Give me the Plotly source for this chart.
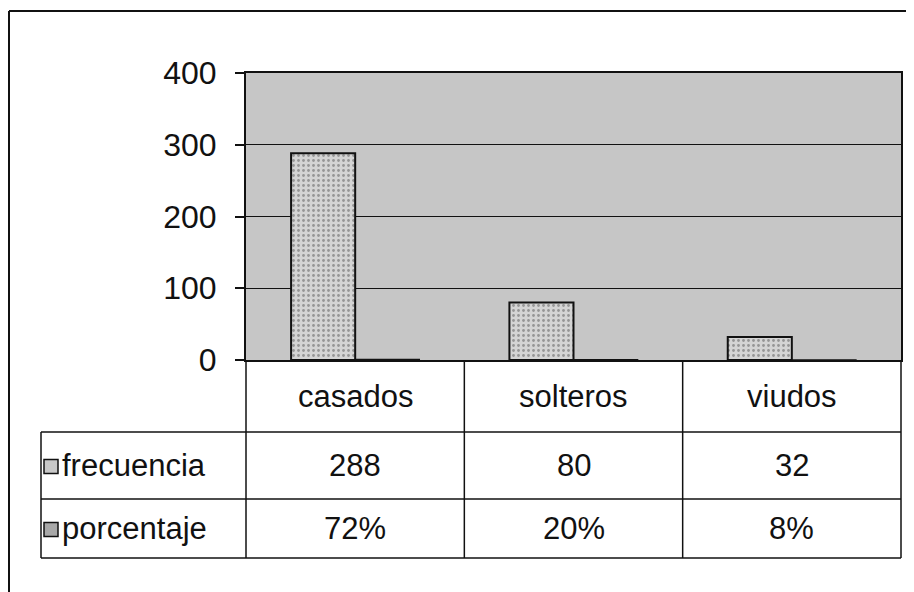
import plotly.graph_objects as go

# ---- data ----
categories = ["casados", "solteros", "viudos"]
frecuencia = [288, 80, 32]
porcentaje = [0.72, 0.20, 0.08]
series_names = ["frecuencia", "porcentaje"]
y_ticks = [0, 100, 200, 300, 400]

# page body has an 8px margin, so the figure is drawn offset by (8, 8)
OFF = 8
W, H = 914 - OFF, 592 - OFF
PL, PT, PR, PB = 246, 73, 901, 360      # plot area in screen pixels
L, T = PL - OFF, PT - OFF
R = W + OFF - PR
B = H + OFF - PB
PW, PH = PR - PL, PB - PT

def px(x):
    return (x - PL) / PW

def py(y):
    return (PB - y) / PH

FONT = "Liberation Sans, Arial, sans-serif"
INK = "#111111"

fig = go.Figure()
fig.add_trace(go.Bar(
    x=categories, y=frecuencia, name=series_names[0],
    marker=dict(color="#d4d4d4", line=dict(color=INK, width=2),
                pattern=dict(shape=".", fgcolor="#555555", size=5, solidity=0.25)),
))
fig.add_trace(go.Bar(
    x=categories, y=porcentaje, name=series_names[1],
    marker=dict(color="#bdbdbd", line=dict(color=INK, width=1.5),
                pattern=dict(shape="x", fgcolor="#555555", size=5, solidity=0.25)),
))

shapes = []
annotations = []
n = len(categories)

# table row boundaries (screen pixels)
row_y = [360, 432, 499, 558]
left_x = 41

for i in range(n + 1):
    shapes.append(dict(type="line", xref="paper", yref="paper",
                       x0=i / n, x1=i / n, y0=py(row_y[0]), y1=py(row_y[-1]),
                       line=dict(color=INK, width=1.5)))
shapes.append(dict(type="line", xref="paper", yref="paper",
                   x0=px(left_x), x1=px(left_x), y0=py(row_y[1]), y1=py(row_y[-1]),
                   line=dict(color=INK, width=1.5)))
for yy in row_y[1:]:
    shapes.append(dict(type="line", xref="paper", yref="paper",
                       x0=px(left_x), x1=1, y0=py(yy), y1=py(yy),
                       line=dict(color=INK, width=1.5)))

# outer frame (left and top edges)
shapes.append(dict(type="line", xref="paper", yref="paper",
                   x0=px(9), x1=px(9), y0=py(11), y1=py(600),
                   line=dict(color=INK, width=2)))
shapes.append(dict(type="line", xref="paper", yref="paper",
                   x0=px(9), x1=px(920), y0=py(11), y1=py(11),
                   line=dict(color=INK, width=2)))

for c in categories:
    annotations.append(dict(x=c, y=py((row_y[0] + row_y[1]) / 2), xref="x", yref="paper",
                            xanchor="center", yanchor="middle",
                            text=c, showarrow=False,
                            font=dict(family=FONT, size=31, color=INK)))

rows = [
    (series_names[0], [str(v) for v in frecuencia], "#c8c8c8"),
    (series_names[1], [f"{round(v * 100)}%" for v in porcentaje], "#a8a8a8"),
]
for r, (name, vals, icol) in enumerate(rows):
    ymid = (row_y[r + 1] + row_y[r + 2]) / 2
    for c, v in zip(categories, vals):
        annotations.append(dict(x=c, y=py(ymid), xref="x", yref="paper",
                                xanchor="center", yanchor="middle",
                                text=v, showarrow=False,
                                font=dict(family=FONT, size=31, color=INK)))
    annotations.append(dict(x=px(60), y=py(ymid), xref="paper", yref="paper",
                            xanchor="left", yanchor="middle", text=name, showarrow=False,
                            font=dict(family=FONT, size=31, color=INK)))
    shapes.append(dict(type="rect", xref="paper", yref="paper",
                       x0=px(44), x1=px(58), y0=py(ymid - 6), y1=py(ymid + 8),
                       fillcolor=icol, line=dict(color=INK, width=1.5)))

fig.update_layout(
    width=W, height=H,
    margin=dict(l=L, r=R, t=T, b=B, pad=0),
    paper_bgcolor="white",
    plot_bgcolor="#c6c6c6",
    barmode="group",
    bargap=0.413,
    bargroupgap=0,
    showlegend=False,
    font=dict(family=FONT, size=31, color=INK),
    shapes=shapes,
    annotations=annotations,
)
fig.update_xaxes(showticklabels=False, ticks="", showline=True, linecolor=INK,
                 linewidth=2, mirror=True, showgrid=False, zeroline=False)
fig.update_yaxes(range=[0, 400], tickvals=y_ticks, ticks="outside", ticklen=9,
                 tickcolor=INK, tickwidth=1.5, showline=True, linecolor=INK,
                 linewidth=2, mirror=True, showgrid=True, gridcolor=INK,
                 gridwidth=1, zeroline=False, ticklabelstandoff=12,
                 tickfont=dict(family=FONT, size=32, color=INK))

fig.write_html("out.html")
